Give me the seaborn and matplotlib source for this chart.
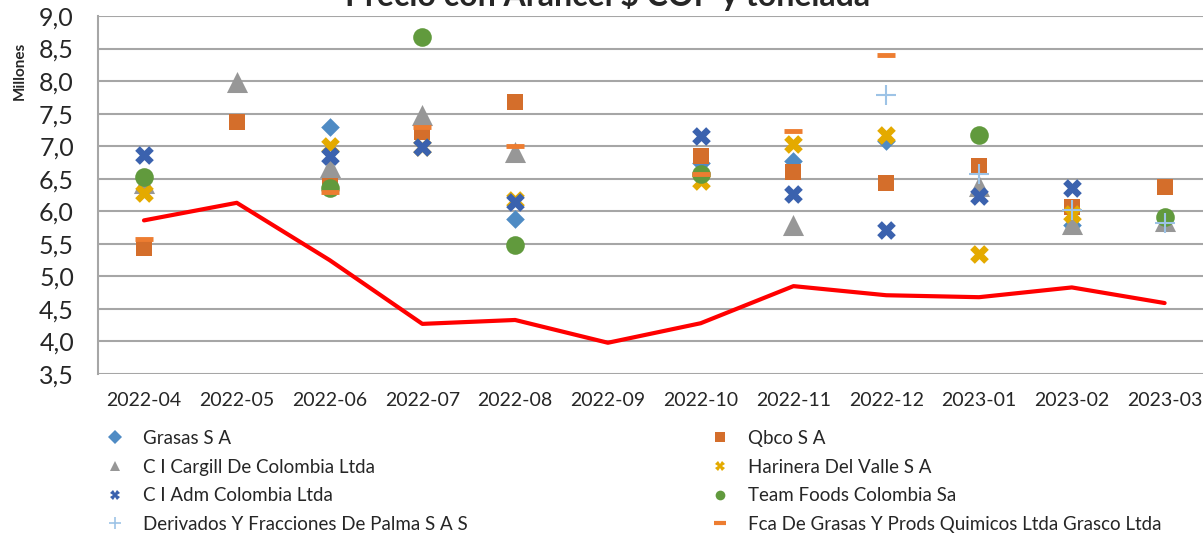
import numpy as np
import pandas as pd
import matplotlib
matplotlib.use('Agg')
import matplotlib.pyplot as plt
import seaborn as sns

meses = ['2022-04', '2022-05', '2022-06', '2022-07', '2022-08', '2022-09',
         '2022-10', '2022-11', '2022-12', '2023-01', '2023-02', '2023-03']
nan = np.nan

linea_roja = [5.86, 6.13, 5.25, 4.27, 4.33, 3.98, 4.28, 4.85, 4.71, 4.68, 4.83, 4.59]

grasas    = [nan, nan, 7.29, nan, 5.88, nan, 6.74, 6.77, 7.08, nan, 5.79, nan]
qbco      = [5.43, 7.37, 6.45, 7.22, 7.68, nan, 6.85, 6.60, 6.44, 6.70, 6.07, 6.37]
cargill   = [6.43, 7.99, 6.68, 7.48, 6.91, nan, nan, 5.79, nan, 6.39, 5.81, 5.85]
harinera  = [6.28, nan, 7.00, 6.99, 6.17, nan, 6.46, 7.03, 7.17, 5.34, 5.96, nan]
adm       = [6.87, nan, 6.85, 6.99, 6.14, nan, 7.16, 6.27, 5.71, 6.23, 6.35, nan]
teamfoods = [6.52, nan, 6.36, 8.68, 5.48, nan, 6.57, nan, nan, 7.17, nan, 5.91]
derivados = [nan, nan, nan, nan, nan, nan, nan, nan, 7.79, 6.58, 6.02, 5.82]
grasco    = [5.57, nan, 6.30, 7.29, 7.00, nan, 6.57, 7.23, 8.40, nan, nan, nan]

# (nombre, valores, marcador, color, tamaño)
series = [
    ('Grasas S A', grasas, 'D', '#4F8BC4', 90),
    ('Qbco S A', qbco, 's', '#D46E2B', 125),
    ('C I Cargill De Colombia Ltda', cargill, '^', '#979797', 230),
    ('Harinera Del Valle S A', harinera, 'X', '#E4AA00', 180),
    ('C I Adm Colombia Ltda', adm, 'X', '#3B62AE', 180),
    ('Team Foods Colombia Sa', teamfoods, 'o', '#619A3D', 180),
    ('Derivados Y Fracciones De Palma S A S', derivados, '+', '#9DC3E6', 200),
    ('Fca De Grasas Y Prods Quimicos Ltda Grasco Ltda', grasco, '_', '#ED7D31', 150),
]

sns.set_style('white')
plt.rcParams['font.family'] = ['Lato', 'DejaVu Sans']

W, H = 1203, 533
fig = plt.figure(figsize=(W / 100, H / 100), dpi=100)
x0, x1 = 97.6, 1211
y0, y1 = 16, 374
ax = fig.add_axes([x0 / W, 1 - y1 / H, (x1 - x0) / W, (y1 - y0) / H])

xs = np.arange(len(meses))
df_linea = pd.DataFrame({'x': xs, 'y': linea_roja})
sns.lineplot(data=df_linea, x='x', y='y', color='#FF0000', linewidth=3, ax=ax, zorder=2)

handles = {}
for nombre, vals, mk, col, sz in series:
    d = pd.DataFrame({'x': xs, 'y': vals}).dropna()
    if mk in ('+', '_'):
        lw = 1.5 if mk == '+' else 3.5
        sns.scatterplot(data=d, x='x', y='y', marker=mk, color=col, s=sz,
                        linewidth=lw, ax=ax, zorder=3)
    else:
        sns.scatterplot(data=d, x='x', y='y', marker=mk, color=col, s=sz,
                        linewidth=0, ax=ax, zorder=3)
    handles[nombre] = plt.Line2D([], [], linestyle='none', marker=mk, color=col,
                                 markersize=7 if mk not in ('+', '_') else 8,
                                 markeredgewidth=1.2 if mk == '+' else (3 if mk == '_' else 0))

ax.set_xlim(-0.5, 11.5)
ax.set_ylim(3.5, 9.0)
ticks_y = np.arange(3.5, 9.01, 0.5)
ax.set_yticks(ticks_y)
ax.set_yticklabels([f'{v:.1f}'.replace('.', ',') for v in ticks_y], fontsize=18)
ax.set_xticks(xs)
ax.set_xticklabels(meses, fontsize=14)
ax.tick_params(axis='y', length=0, pad=17)
ax.tick_params(axis='x', length=0, pad=13)
ax.grid(axis='y', color='#A6A6A6', linewidth=1.5)
ax.set_axisbelow(True)
for s in ['top', 'right', 'bottom']:
    ax.spines[s].set_visible(False)
ax.spines['left'].set_color('#A6A6A6')
ax.spines['left'].set_linewidth(1.5)
ax.set_xlabel('')
ax.set_ylabel('')

fig.text(20 / W, 1 - 71 / H, 'Millones', rotation=90, fontsize=11, fontweight='bold',
         ha='center', va='center')
fig.text(608 / W, 1 - 6 / H, 'Precio con Arancel $ COP y tonelada', fontsize=23,
         fontweight='bold', ha='center', va='baseline')

col1 = ['Grasas S A', 'C I Cargill De Colombia Ltda', 'C I Adm Colombia Ltda',
        'Derivados Y Fracciones De Palma S A S']
col2 = ['Qbco S A', 'Harinera Del Valle S A', 'Team Foods Colombia Sa',
        'Fca De Grasas Y Prods Quimicos Ltda Grasco Ltda']
for cols, xa in [(col1, 96), (col2, 701)]:
    fig.legend([handles[n] for n in cols], cols, loc='upper left',
               bbox_to_anchor=(xa / W, 1 - 430 / H), frameon=False, fontsize=13.5,
               labelspacing=0.62, handletextpad=0.5, borderaxespad=0, borderpad=0)

fig.savefig('out.png', dpi=100)
